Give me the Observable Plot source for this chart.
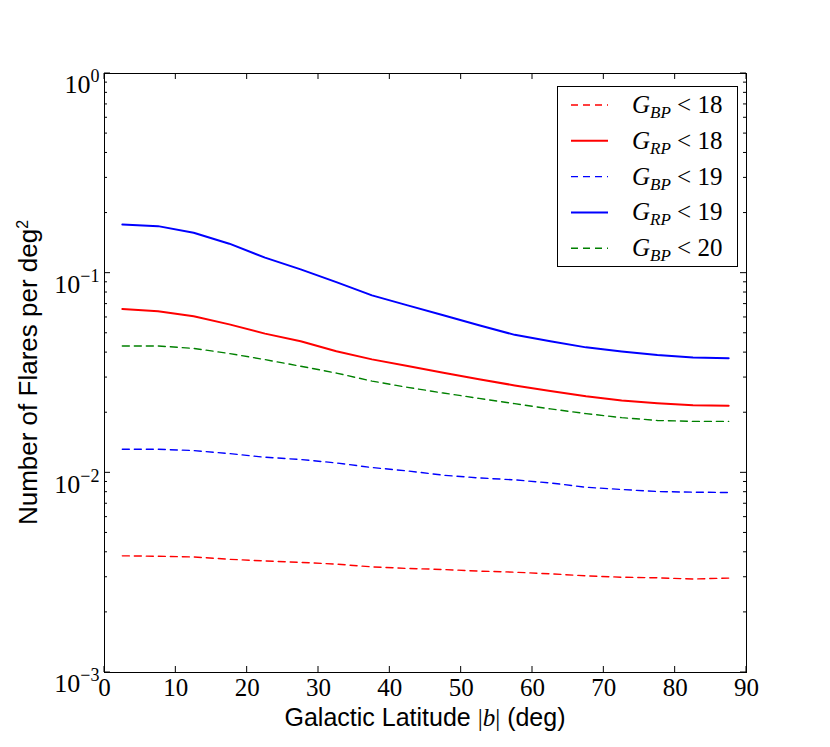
<!DOCTYPE html>
<html><head><meta charset="utf-8">
<script src="https://cdn.jsdelivr.net/npm/d3@7"></script>
<script src="https://cdn.jsdelivr.net/npm/@observablehq/plot@0.6"></script>
<style>body{margin:0;background:#fff} svg{display:block}</style>
</head><body><div id="chart"></div>
<script>
const latitude = [2.5,7.5,12.5,17.5,22.5,27.5,32.5,37.5,42.5,47.5,52.5,57.5,62.5,67.5,72.5,77.5,82.5,87.5];
const bp18 = [0.00384,0.00382,0.00379,0.00369,0.00362,0.00356,0.00349,0.00338,0.00332,0.00328,0.00322,0.00318,0.00312,0.00305,0.00300,0.00298,0.00294,0.00297];
const rp18 = [0.0661,0.0644,0.0608,0.0554,0.0498,0.0456,0.0406,0.0370,0.0343,0.0317,0.0294,0.0274,0.0257,0.0242,0.0230,0.0223,0.0218,0.0217];
const bp19 = [0.01312,0.01312,0.01293,0.01249,0.01197,0.01166,0.01121,0.01063,0.01022,0.00973,0.00943,0.00922,0.00890,0.00847,0.00825,0.00806,0.00800,0.00797];
const rp19 = [0.1754,0.1720,0.1595,0.1405,0.1196,0.1045,0.0902,0.0774,0.0690,0.0615,0.0548,0.0491,0.0456,0.0425,0.0405,0.0389,0.0378,0.0375];
const bp20 = [0.0432,0.0432,0.0420,0.0396,0.0369,0.0342,0.0316,0.0288,0.0268,0.0251,0.0236,0.0222,0.0209,0.0198,0.0189,0.0183,0.0181,0.0181];
const legendBands = ["BP","RP","BP","RP","BP"];
const legendMags = [18,18,19,19,20];
const xTicks = [0,10,20,30,40,50,60,70,80,90];
const yTicks = [1,0.1,0.01,0.001];
const yExponents = ["0","\u22121","\u22122","\u22123"];

const series = [
  {values: bp18, color: "#ff0000", dash: "7,5", width: 1.4},
  {values: rp18, color: "#ff0000", dash: null, width: 2},
  {values: bp19, color: "#0000ff", dash: "7,5", width: 1.4},
  {values: rp19, color: "#0000ff", dash: null, width: 2},
  {values: bp20, color: "#008000", dash: "7,5", width: 1.4}
];
series.forEach((s,i)=>{ s.band = legendBands[i]; s.mag = legendMags[i]; });

const W = 830, H = 747, ML = 104, MR = 84, MT = 73, MB = 75;
const serif = "'Liberation Serif', serif";
const sans = "'Liberation Sans', Arial, sans-serif";

const plot = Plot.plot({
  width: W, height: H,
  marginLeft: ML, marginRight: MR, marginTop: MT, marginBottom: MB,
  style: {fontFamily: serif, fontSize: "25px", background: "white", color: "black", overflow: "visible"},
  x: {domain: [0, 90]},
  y: {type: "log", domain: [0.001, 1]},
  marks: [
    ...series.map(s => Plot.line(latitude.map((b,i)=>({b, v: s.values[i]})), {
      x: "b", y: "v", stroke: s.color, strokeWidth: s.width,
      strokeDasharray: s.dash || undefined, strokeLinejoin: "round"
    })),
    Plot.frame({stroke: "black", strokeWidth: 1}),
    Plot.axisX({ticks: xTicks, tickSize: 0, tickPadding: 6, tickFormat: d => String(d), label: null}),
    Plot.axisY({ticks: yTicks, tickSize: 0, tickPadding: 5, tickFormat: d => "10|" + yExponents[yTicks.indexOf(d)], label: null})
  ]
});

document.getElementById("chart").appendChild(plot);
const svg = d3.select(plot);
const xs = plot.scale("x"), ys = plot.scale("y");

svg.selectAll('g[aria-label="x-axis tick label"] text').style("font-size", "25px").style("font-family", serif);
// superscripts for y tick labels
svg.selectAll('g[aria-label="y-axis tick label"] text').each(function(){
  const t = d3.select(this);
  const parts = t.text().split("|");
  t.text(parts[0]).attr("dy", "0.44em").style("font-size", "26px").style("font-family", serif);
  t.append("tspan").attr("dy", "-0.6em").style("font-size", "18px").text(parts[1]);
});

// inward ticks on all four sides
const g = svg.append("g").attr("stroke", "black").attr("stroke-width", 1);
const pL = ML, pR = W - MR, pT = MT, pB = H - MB;
const majorLen = 6, minorLen = 3;
xTicks.forEach(v => {
  const x = xs.apply(v);
  g.append("line").attr("x1", x).attr("x2", x).attr("y1", pB).attr("y2", pB - majorLen);
  g.append("line").attr("x1", x).attr("x2", x).attr("y1", pT).attr("y2", pT + majorLen);
});
yTicks.forEach(v => {
  const y = ys.apply(v);
  g.append("line").attr("x1", pL).attr("x2", pL + majorLen).attr("y1", y).attr("y2", y);
  g.append("line").attr("x1", pR).attr("x2", pR - majorLen).attr("y1", y).attr("y2", y);
});
[0.001, 0.01, 0.1].forEach(d => {
  for (let k = 2; k <= 9; k++) {
    const y = ys.apply(k * d);
    g.append("line").attr("x1", pL).attr("x2", pL + minorLen).attr("y1", y).attr("y2", y);
    g.append("line").attr("x1", pR).attr("x2", pR - minorLen).attr("y1", y).attr("y2", y);
  }
});

// axis labels
const xl = svg.append("text").attr("x", (pL + pR) / 2).attr("y", 726)
  .attr("text-anchor", "middle").style("font-family", sans).style("font-size", "25px").attr("fill", "black");
xl.append("tspan").text("Galactic Latitude ");
xl.append("tspan").style("font-family", serif).text("|");
xl.append("tspan").style("font-family", serif).style("font-style", "italic").text("b");
xl.append("tspan").style("font-family", serif).text("|");
xl.append("tspan").text(" (deg)");

const yl = svg.append("text").attr("transform", `translate(37,${(pT + pB) / 2}) rotate(-90)`)
  .attr("text-anchor", "middle").style("font-family", sans).style("font-size", "26px").attr("fill", "black");
yl.append("tspan").text("Number of Flares per deg");
yl.append("tspan").attr("dy", "-0.55em").style("font-size", "16px").text("2");

// legend
const lg = svg.append("g");
lg.append("rect").attr("x", 557.5).attr("y", 86.5).attr("width", 180).attr("height", 180)
  .attr("fill", "white").attr("stroke", "black").attr("stroke-width", 1);
series.forEach((s, i) => {
  const y = 105 + i * 35.8;
  lg.append("line").attr("x1", 571).attr("x2", 608).attr("y1", y).attr("y2", y)
    .attr("stroke", s.color).attr("stroke-width", s.width)
    .attr("stroke-dasharray", s.dash || null);
  const t = lg.append("text").attr("x", 632).attr("y", y + 8).attr("text-anchor", "start")
    .style("font-family", serif).style("font-size", "25px").attr("fill", "black");
  t.append("tspan").style("font-style", "italic").text("G");
  t.append("tspan").style("font-style", "italic").style("font-size", "17px").attr("dy", 5).text(s.band);
  t.append("tspan").attr("dy", -5).text(" < " + s.mag);
});
</script>
</body></html>
